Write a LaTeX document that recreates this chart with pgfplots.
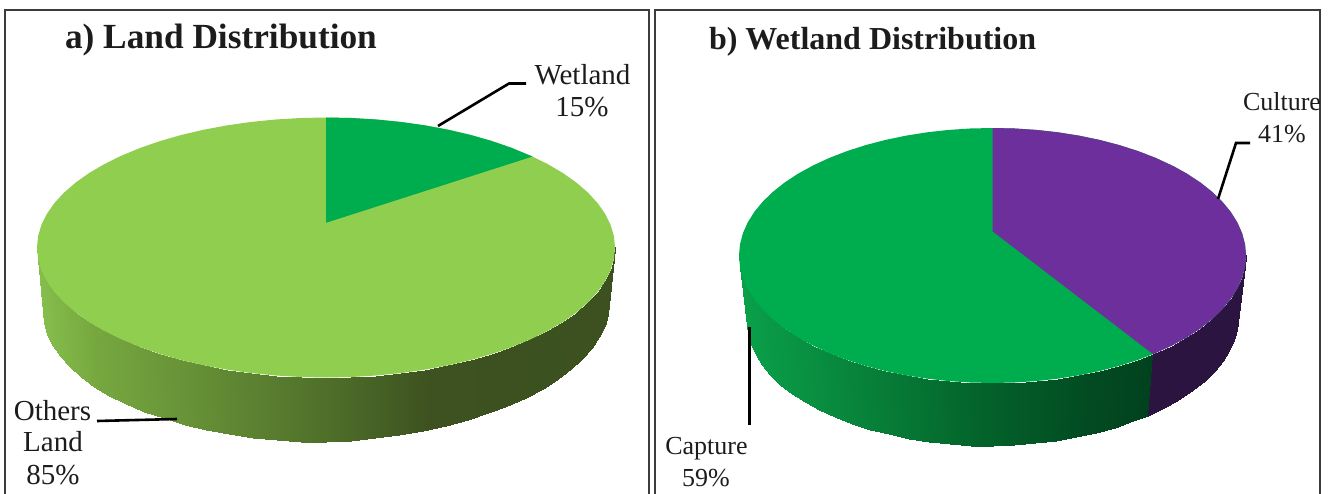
\documentclass[border=0pt]{standalone}
\usepackage{pgfplots}
\usepackage{pgfplotstable}
\usepackage{fontspec}
\setmainfont{Liberation Serif}
\pgfplotsset{compat=1.18}

\definecolor{leafgreen}{HTML}{90CE50}
\definecolor{wetgreen}{HTML}{00AD4E}
\definecolor{culture}{HTML}{6D2F9C}
\definecolor{ink}{HTML}{1C1C1C}
\definecolor{framegray}{HTML}{3C3C3C}

\tikzset{lab/.style={text=ink, inner sep=0pt, outer sep=0pt}}

% Unit ellipse, clockwise from the top in 5-degree steps; first row is the pie apex.
% Two rows carry the exact slice boundaries (15% and 41% shares as drawn).
\pgfplotstableread{
c s
0 -0.19
0 -1
.0872 -.9962
.1736 -.9848
.2588 -.9659
.3420 -.9397
.4226 -.9063
.5 -.8660
.5736 -.8192
.6428 -.7660
.7145 -.6997
.7660 -.6428
.8192 -.5736
.8660 -.5
.9063 -.4226
.9397 -.3420
.9659 -.2588
.9848 -.1736
.9962 -.0872
1 0
.9962 .0872
.9848 .1736
.9659 .2588
.9397 .3420
.9063 .4226
.8660 .5
.8192 .5736
.7660 .6428
.7071 .7071
.6334 .7738
.5736 .8192
.5 .8660
.4226 .9063
.3420 .9397
.2588 .9659
.1736 .9848
.0872 .9962
0 1
-.0872 .9962
-.1736 .9848
-.2588 .9659
-.3420 .9397
-.4226 .9063
-.5 .8660
-.5736 .8192
-.6428 .7660
-.7071 .7071
-.7660 .6428
-.8192 .5736
-.8660 .5
-.9063 .4226
-.9397 .3420
-.9659 .2588
-.9848 .1736
-.9962 .0872
-1 0
-.9962 -.0872
-.9848 -.1736
-.9659 -.2588
-.9397 -.3420
-.9063 -.4226
-.8660 -.5
-.8192 -.5736
-.7660 -.6428
-.7071 -.7071
-.6428 -.7660
-.5736 -.8192
-.5 -.8660
-.4226 -.9063
-.3420 -.9397
-.2588 -.9659
-.1736 -.9848
-.0872 -.9962
}\rimtable

% Front wall of a pie: upper rim (b=0) and lower rim (b=1), left to right.
\pgfplotstableread{
c s b
-1 0 0
-1 0 1
-.9962 .0872 0
-.9962 .0872 1
-.9848 .1736 0
-.9848 .1736 1
-.9659 .2588 0
-.9659 .2588 1
-.9397 .3420 0
-.9397 .3420 1
-.9063 .4226 0
-.9063 .4226 1
-.8660 .5 0
-.8660 .5 1
-.8192 .5736 0
-.8192 .5736 1
-.7660 .6428 0
-.7660 .6428 1
-.7071 .7071 0
-.7071 .7071 1
-.6428 .7660 0
-.6428 .7660 1
-.5736 .8192 0
-.5736 .8192 1
-.5 .8660 0
-.5 .8660 1
-.4226 .9063 0
-.4226 .9063 1
-.3420 .9397 0
-.3420 .9397 1
-.2588 .9659 0
-.2588 .9659 1
-.1736 .9848 0
-.1736 .9848 1
-.0872 .9962 0
-.0872 .9962 1
0 1 0
0 1 1
.0872 .9962 0
.0872 .9962 1
.1736 .9848 0
.1736 .9848 1
.2588 .9659 0
.2588 .9659 1
.3420 .9397 0
.3420 .9397 1
.4226 .9063 0
.4226 .9063 1
.5 .8660 0
.5 .8660 1
.5736 .8192 0
.5736 .8192 1
.6334 .7738 0
.6334 .7738 1
.7071 .7071 0
.7071 .7071 1
.7660 .6428 0
.7660 .6428 1
.8192 .5736 0
.8192 .5736 1
.8660 .5 0
.8660 .5 1
.9063 .4226 0
.9063 .4226 1
.9397 .3420 0
.9397 .3420 1
.9659 .2588 0
.9659 .2588 1
.9848 .1736 0
.9848 .1736 1
.9962 .0872 0
.9962 .0872 1
1 0 0
1 0 1
}\walltable

% The same wall split at the Capture/Culture boundary.
\pgfplotstableread{
c s b
-1 0 0
-1 0 1
-.9962 .0872 0
-.9962 .0872 1
-.9848 .1736 0
-.9848 .1736 1
-.9659 .2588 0
-.9659 .2588 1
-.9397 .3420 0
-.9397 .3420 1
-.9063 .4226 0
-.9063 .4226 1
-.8660 .5 0
-.8660 .5 1
-.8192 .5736 0
-.8192 .5736 1
-.7660 .6428 0
-.7660 .6428 1
-.7071 .7071 0
-.7071 .7071 1
-.6428 .7660 0
-.6428 .7660 1
-.5736 .8192 0
-.5736 .8192 1
-.5 .8660 0
-.5 .8660 1
-.4226 .9063 0
-.4226 .9063 1
-.3420 .9397 0
-.3420 .9397 1
-.2588 .9659 0
-.2588 .9659 1
-.1736 .9848 0
-.1736 .9848 1
-.0872 .9962 0
-.0872 .9962 1
0 1 0
0 1 1
.0872 .9962 0
.0872 .9962 1
.1736 .9848 0
.1736 .9848 1
.2588 .9659 0
.2588 .9659 1
.3420 .9397 0
.3420 .9397 1
.4226 .9063 0
.4226 .9063 1
.5 .8660 0
.5 .8660 1
.5736 .8192 0
.5736 .8192 1
.6334 .7738 0
.6334 .7738 1
}\wallcapture
\pgfplotstableread{
c s b
.6334 .7738 0
.6334 .7738 1
.7071 .7071 0
.7071 .7071 1
.7660 .6428 0
.7660 .6428 1
.8192 .5736 0
.8192 .5736 1
.8660 .5 0
.8660 .5 1
.9063 .4226 0
.9063 .4226 1
.9397 .3420 0
.9397 .3420 1
.9659 .2588 0
.9659 .2588 1
.9848 .1736 0
.9848 .1736 1
.9962 .0872 0
.9962 .0872 1
1 0 0
1 0 1
}\wallculture

\pgfplotsset{
  colormap={wallA}{rgb255(0pt)=(134,190,76) rgb255(20pt)=(118,167,63) rgb255(56pt)=(101,143,54) rgb255(100pt)=(79,111,42) rgb255(136pt)=(61,82,32) rgb255(200pt)=(60,80,32)},
  colormap={wallB}{rgb255(0pt)=(10,160,74) rgb255(42pt)=(8,134,60) rgb255(100pt)=(3,96,41) rgb255(140pt)=(2,74,34) rgb255(163pt)=(1,66,30) rgb255(200pt)=(1,66,30)},
  colormap={wallC}{rgb255(0pt)=(43,20,64) rgb255(200pt)=(43,20,64)},
}

% Pixel-sized text helpers
\newcommand{\lblA}{\fontsize{29}{30}\selectfont}
\newcommand{\lblB}{\fontsize{26}{28}\selectfont}

\begin{document}
\begin{tikzpicture}
\useasboundingbox (0,0) rectangle (1330pt,494pt);
\begin{axis}[
  at={(0,0)}, anchor=south west,
  scale only axis, width=1330pt, height=494pt,
  xmin=0, xmax=1330, ymin=0, ymax=494, y dir=reverse,
  hide axis, point meta min=-1, point meta max=1,
]
% Panel frames
\addplot[framegray, line width=1.4pt, forget plot] coordinates {(5,494) (5,10) (649,10) (649,494)};
\addplot[framegray, line width=1.4pt, forget plot] coordinates {(655,494) (655,10) (1320,10) (1320,494)};

% Land distribution; the lower rim rises slightly toward the right for the perspective
\addplot[surf, shader=interp, colormap name=wallA, mesh/rows=37, mesh/cols=2, point meta=\thisrow{c}]
  table[x expr={326+(289-6*\thisrow{b})*\thisrow{c}}, y expr={247.5+64.5*\thisrow{b}+130*\thisrow{s}-9*\thisrow{b}*max(\thisrow{c},0)}] {\walltable};
\addplot[fill=leafgreen, draw=none, skip coords between index={0}{1}]
  table[x expr={326+289*\thisrow{c}}, y expr={247.5+130*\thisrow{s}}] {\rimtable} -- cycle;
\addplot[fill=wetgreen, draw=none, skip coords between index={11}{80}]
  table[x expr={326+289*\thisrow{c}}, y expr={247.5+130*\thisrow{s}}] {\rimtable} -- cycle;

% Wetland distribution
\addplot[surf, shader=interp, colormap name=wallB, mesh/rows=27, mesh/cols=2, point meta=\thisrow{c}]
  table[x expr={992.5+(253.5-8.5*\thisrow{b})*\thisrow{c}}, y expr={255.5+67.5*\thisrow{b}+(127.5-4.5*\thisrow{b})*\thisrow{s}-4*\thisrow{b}*max(\thisrow{c},0)}] {\wallcapture};
\addplot[surf, shader=interp, colormap name=wallC, mesh/rows=11, mesh/cols=2, point meta=\thisrow{c}]
  table[x expr={992.5+(253.5-8.5*\thisrow{b})*\thisrow{c}}, y expr={255.5+67.5*\thisrow{b}+(127.5-4.5*\thisrow{b})*\thisrow{s}-4*\thisrow{b}*max(\thisrow{c},0)}] {\wallculture};
\addplot[fill=wetgreen, draw=none, skip coords between index={0}{1}]
  table[x expr={992.5+253.5*\thisrow{c}}, y expr={255.5+127.5*\thisrow{s}}] {\rimtable} -- cycle;
\addplot[fill=culture, draw=none, skip coords between index={30}{80}]
  table[x expr={992.5+253.5*\thisrow{c}}, y expr={255.5+127.5*\thisrow{s}}] {\rimtable} -- cycle;

% Leader lines
\addplot[black, line width=2.6pt] coordinates {(438,126) (509,83.5) (526,83.5)};
\addplot[black, line width=2.6pt] coordinates {(97,421) (177,419)};
\addplot[black, line width=2.6pt] coordinates {(749.5,327) (749.5,425)};
\addplot[black, line width=2.6pt] coordinates {(1218,199) (1236,143) (1250,143)};

% Titles
\node[lab, anchor=base west] at (axis cs:65,49) {\fontsize{35.3}{37}\selectfont\bfseries a) Land Distribution};
\node[lab, anchor=base west] at (axis cs:709,50) {\fontsize{32}{34}\selectfont\bfseries b) Wetland Distribution};

% Slice labels
\node[lab, anchor=base] at (axis cs:582.5,84.3) {\lblA Wetland};
\node[lab, anchor=base] at (axis cs:582,116.7) {\lblA 15\%};
\node[lab, anchor=base] at (axis cs:52.5,420) {\lblA Others};
\node[lab, anchor=base] at (axis cs:53,451.7) {\lblA Land};
\node[lab, anchor=base] at (axis cs:53,484) {\lblA 85\%};
\node[lab, anchor=base] at (axis cs:706.5,454) {\lblB Capture};
\node[lab, anchor=base] at (axis cs:706,486) {\lblB 59\%};
\node[lab, anchor=base west] at (axis cs:1243,110.7) {\lblB Culture};
\node[lab, anchor=base] at (axis cs:1282,142.7) {\lblB 41\%};
\end{axis}
\end{tikzpicture}
\end{document}
